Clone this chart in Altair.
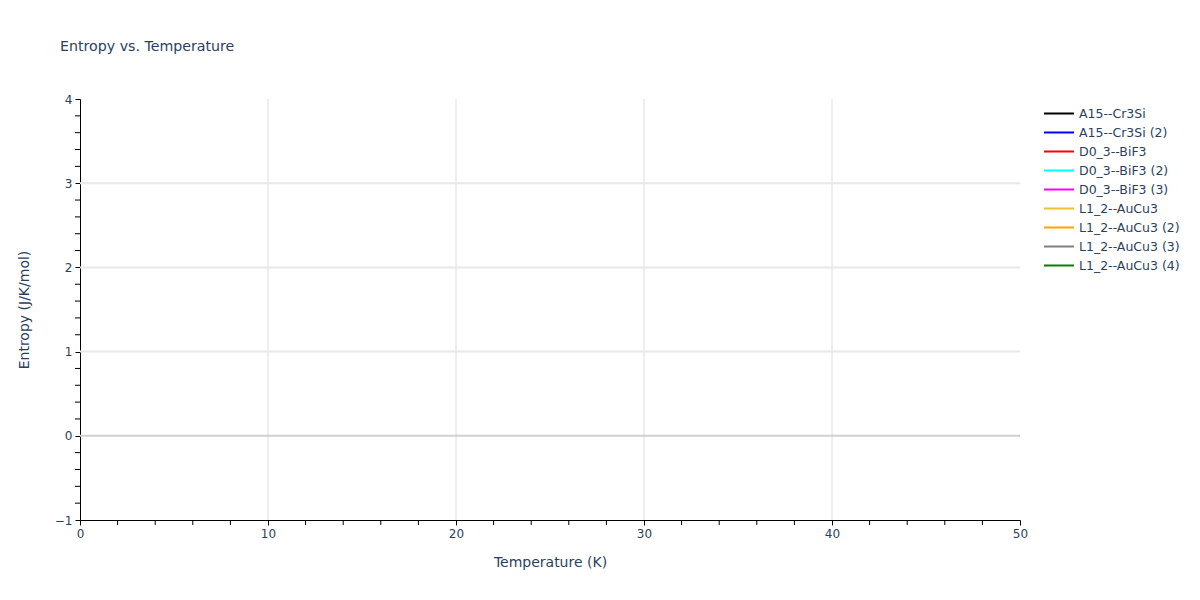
import altair as alt
import pandas as pd

# Series shown in the legend (no visible data inside the plotted range)
series_names = [
    "A15--Cr3Si", "A15--Cr3Si (2)", "D0_3--BiF3", "D0_3--BiF3 (2)",
    "D0_3--BiF3 (3)", "L1_2--AuCu3", "L1_2--AuCu3 (2)", "L1_2--AuCu3 (3)",
    "L1_2--AuCu3 (4)",
]
series_colors = ["black", "blue", "red", "cyan", "magenta", "#EDC232",
                 "orange", "gray", "green"]

temperature = []   # K
entropy = []       # J/K/mol
series = []

x_major = [0, 10, 20, 30, 40, 50]
y_major = [-1, 0, 1, 2, 3, 4]
x_grid = [10, 20, 30, 40]
y_grid = [1, 2, 3]
zero_line = [0]
x_minor = [2, 4, 6, 8, 12, 14, 16, 18, 22, 24, 26, 28, 32, 34, 36, 38, 42, 44, 46, 48]
y_minor = [-0.8, -0.6, -0.4, -0.2, 0.2, 0.4, 0.6, 0.8, 1.2, 1.4, 1.6, 1.8,
           2.2, 2.4, 2.6, 2.8, 3.2, 3.4, 3.6, 3.8]

df = pd.DataFrame({"T": pd.Series(temperature, dtype=float),
                   "S": pd.Series(entropy, dtype=float),
                   "series": pd.Series(series, dtype=str)})

font = "DejaVu Sans"
txt = "#2a3f5f"
W, H = 940, 421

xs = alt.Scale(domain=[0, 50], nice=False, zero=False)
ys = alt.Scale(domain=[-1, 4], nice=False, zero=False)

x_axis = alt.Axis(
    title="Temperature (K)", values=x_major, grid=False, format="d",
    domainColor="black", domainWidth=1, tickColor="black", tickSize=5,
    labelFont=font, labelFontSize=12, labelColor=txt, labelPadding=3,
    titleFont=font, titleFontSize=14, titleColor=txt, titleFontWeight="normal",
    titlePadding=16, labelFlush=False,
)
y_axis = alt.Axis(
    title="Entropy (J/K/mol)", values=y_major, grid=False, format="d",
    domainColor="black", domainWidth=1, tickColor="black", tickSize=5,
    labelFont=font, labelFontSize=12, labelColor=txt, labelPadding=3,
    titleFont=font, titleFontSize=14, titleColor=txt, titleFontWeight="normal",
    titlePadding=23, labelFlush=False,
)

vgrid = alt.Chart(pd.DataFrame({"v": x_grid})).mark_rule(
    color="#dedede", strokeWidth=1).encode(
    x=alt.X("v:Q", scale=xs, axis=x_axis))
hgrid = alt.Chart(pd.DataFrame({"v": y_grid})).mark_rule(
    color="#e8e8e8", strokeWidth=2).encode(
    y=alt.Y("v:Q", scale=ys, axis=y_axis))
zline = alt.Chart(pd.DataFrame({"v": zero_line})).mark_rule(
    color="#d0d0d0", strokeWidth=2).encode(
    y=alt.Y("v:Q", scale=ys))
xminor = alt.Chart(pd.DataFrame({"v": x_minor})).mark_rule(
    color="black", strokeWidth=1, clip=False).encode(
    x=alt.X("v:Q", scale=xs), y=alt.value(H), y2=alt.value(H + 5))
yminor = alt.Chart(pd.DataFrame({"v": y_minor})).mark_rule(
    color="black", strokeWidth=1, clip=False).encode(
    y=alt.Y("v:Q", scale=ys), x=alt.value(0), x2=alt.value(-5))

lines = alt.Chart(df).mark_line(strokeWidth=2, clip=True).encode(
    x=alt.X("T:Q", scale=xs),
    y=alt.Y("S:Q", scale=ys),
    color=alt.Color("series:N",
                    scale=alt.Scale(domain=series_names, range=series_colors),
                    legend=alt.Legend(title=None, orient="none", legendX=963, legendY=6,
                                      symbolType="stroke", symbolSize=900,
                                      symbolStrokeWidth=2, labelFont=font,
                                      labelFontSize=12.5, labelColor=txt,
                                      labelOffset=4, rowPadding=2, clipHeight=17)),
)

chart = alt.layer(vgrid, hgrid, zline, xminor, yminor, lines).properties(
    width=W, height=H,
    title=alt.TitleParams("Entropy vs. Temperature", anchor="start", frame="group",
                          dx=-20, offset=39, font=font, fontSize=14.2, color=txt,
                          fontWeight="normal"),
    autosize=alt.AutoSizeParams(type="none"),
    padding={"left": 72, "top": 91, "right": 170, "bottom": 70},
).configure_view(stroke=None)

chart.save("out.html", embed_options={"renderer": "svg", "actions": False})
